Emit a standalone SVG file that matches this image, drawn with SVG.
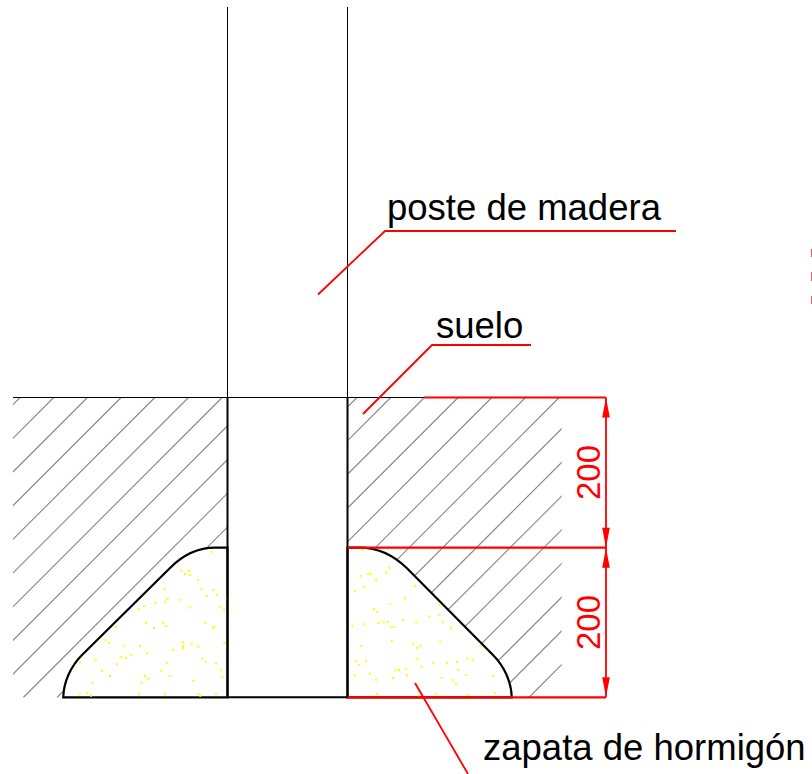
<svg xmlns="http://www.w3.org/2000/svg" width="812" height="774" viewBox="0 0 812 774">
<style>
.t{font-family:"Liberation Sans",Arial,sans-serif;font-size:36.5px;fill:#000}
.d{font-family:"Liberation Sans",Arial,sans-serif;font-size:33px;fill:#f00;text-anchor:middle}
.r{fill:none;stroke:#f00;stroke-width:1.8}
.k{fill:none;stroke:#000}
.f{fill:#fff;stroke:#000;stroke-width:2.2}
.s{fill:none;stroke:#ff0;stroke-width:6}
.a{fill:#f00}
</style>
<defs><clipPath id="hc"><rect x="13" y="397.5" width="214.5" height="300"/><rect x="347.5" y="397.5" width="214.2" height="300"/></clipPath></defs>
<rect width="812" height="774" fill="#fff"/>
<g id="suelo">
<path clip-path="url(#hc)" fill="none" stroke="#888" stroke-width="1.1" d="M20 397.5l-300 300M53.7 397.5l-300 300M87.4 397.5l-300 300M121.1 397.5l-300 300M154.8 397.5l-300 300M188.5 397.5l-300 300M222.2 397.5l-300 300M255.9 397.5l-300 300M289.6 397.5l-300 300M323.3 397.5l-300 300M357 397.5l-300 300M390.7 397.5l-300 300M424.4 397.5l-300 300M458.1 397.5l-300 300M491.8 397.5l-300 300M525.5 397.5l-300 300M559.2 397.5l-300 300M592.9 397.5l-300 300M626.6 397.5l-300 300M660.3 397.5l-300 300M694 397.5l-300 300M727.7 397.5l-300 300M761.4 397.5l-300 300M795.1 397.5l-300 300M828.8 397.5l-300 300"/>
<path class="k" stroke-width="1" d="M13 397.5H424"/>
</g>
<g id="zapata">
<path class="f" d="M227.5 547.7H215C198 547.7 183 555 170 568L82 655C71 666 63.500 682 63.300 697.300H227.500Z"/>
<path class="f" d="M347.500 547.700H360C377 547.700 393 555 406.700 568L493 655C504 666 511.500 682 511.700 697.300H347.500Z"/>
<path class="s" transform="translate(0 380) scale(.3333)" d="M632 515h6M541 572h6M564 572h6M552 582h6M567 585h6M591 601h6M601 628h6M491 628h6M637 630h6M617 648h6M647 645h6M500 657h6M493 665h6M539 659h6M463 668h6M430 678h6M413 688h6M568 682h6M658 680h6M669 689h6M676 656h4M435 728h6M487 730h6M495 739h6M459 744h6M345 740h6M613 728h6M640 740h6M636 744h6M314 780h6M325 789h6M547 786h6M572 793h6M546 799h6M546 805h6M592 800h6M670 789h6M368 799h6M417 798h6M517 810h6M438 820h6M391 826h6M375 834h6M361 831h6M604 836h6M614 846h6M645 850h6M284 840h6M237 847h6M348 852h6M498 849h6M303 872h6M481 872h6M659 871h6M327 888h6M432 888h6M442 896h6M506 888h6M664 892h6M275 908h6M421 908h6M576 903h6M236 943h6M259 938h6M270 947h6M414 942h6M492 942h6M592 942h6M598 947h6M645 942h6"/>
<path class="s" transform="translate(340 380) scale(.3333)" d="M64 511h6M145 563h6M135 578h6M59 588h6M82 583h6M90 583h6M106 600h6M68 622h6M42 634h6M222 617h6M192 655h6M148 673h6M295 674h6M99 687h6M109 696h6M265 709h6M295 704h6M187 720h6M112 729h6M128 727h6M141 726h6M226 727h6M306 727h6M34 739h6M71 733h6M152 742h6M160 741h6M330 743h6M152 783h6M298 785h6M61 798h6M217 793h6M238 798h6M228 804h6M418 798h6M229 837h6M45 844h6M55 854h6M75 842h6M277 848h6M318 850h6M348 846h6M379 835h6M395 840h6M241 860h6M164 870h6M174 870h6M194 866h6M352 870h6M41 886h6M87 881h6M198 885h6M376 885h6M457 888h6M105 899h6M156 894h6M302 894h6M335 901h6M345 911h6M108 942h6M233 947h6M284 941h6M382 944h6M463 940h6"/>
</g>
<g id="poste">
<path class="k" stroke-width="1" d="M227.500 7V397.500M347.500 7V397.500"/>
<path class="k" stroke-width="2" d="M227.500 397.500V697.300M347.500 397.500V697.300M227.500 697.300H347.500"/>
</g>
<g id="connectors">
<path class="r" d="M318 294.500L385 231H676"/>
<path class="r" d="M363 414L432 345H531"/>
<path class="r" d="M415 683L468 774"/>
</g>
<g id="cotas">
<path class="r" style="stroke-width:2.200" d="M424 397.500H606M347.500 547.700H606M347.500 697.300H606"/>
<path class="r" d="M606 397.500V697.300"/>
<path class="a" d="M606 397.500l-3.800 20h7.600zM606 547.700l-3.800-20h7.600zM606 547.700l-3.800 20h7.600zM606 697.300l-3.800-20h7.600z"/>
<text class="d" transform="translate(599.500 472.500) rotate(-90)">200</text>
<text class="d" transform="translate(599.500 622.500) rotate(-90)">200</text>
<path class="r" style="stroke:#f55;stroke-width:1" d="M811.500 249V257M811.500 272V281M811.500 296V304"/>
</g>
<g id="labels">
<text class="t" x="387" y="220">poste de madera</text>
<text class="t" x="436" y="338">suelo</text>
<text class="t" x="483" y="760">zapata de hormigón</text>
</g>
</svg>
